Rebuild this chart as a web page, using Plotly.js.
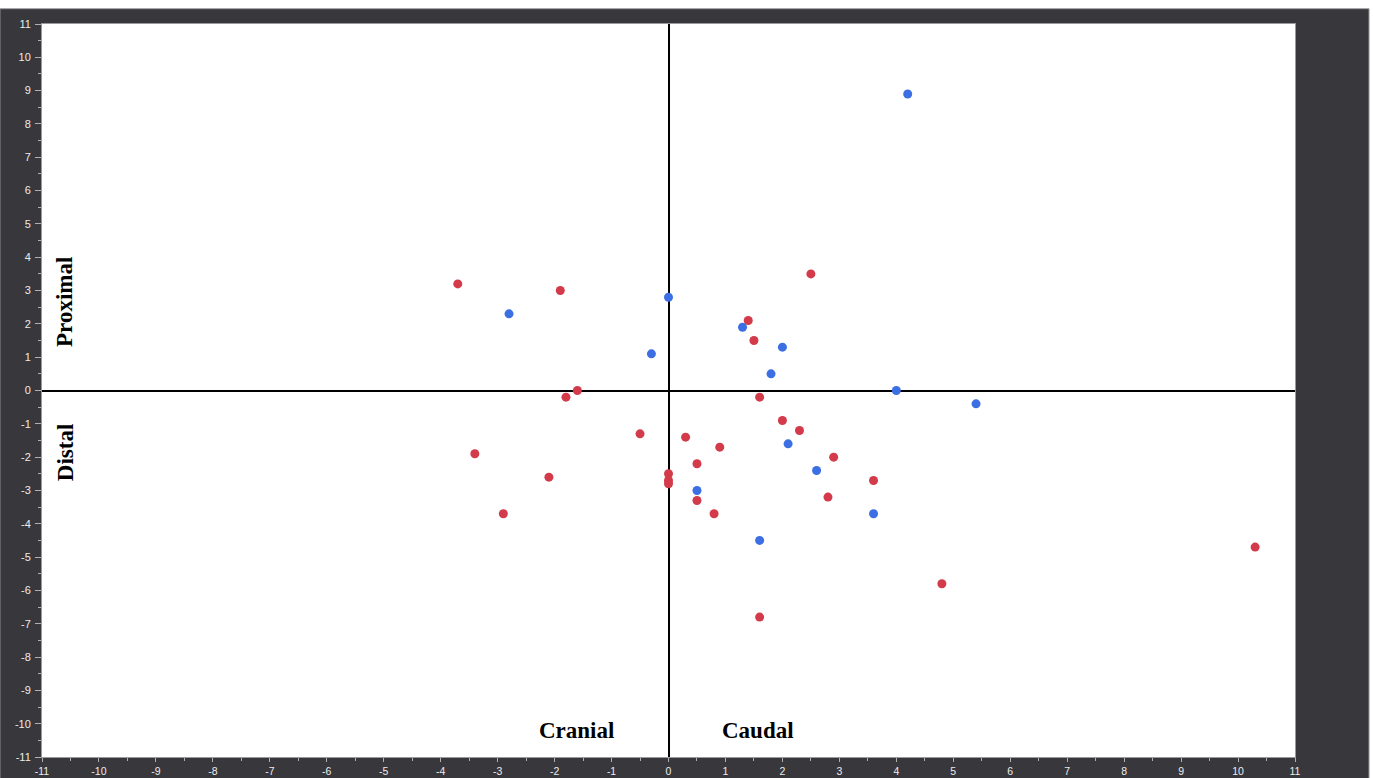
<!DOCTYPE html>
<html>
<head>
<meta charset="utf-8">
<script src="https://cdn.plot.ly/plotly-3.0.1.min.js"></script>
<style>html,body{margin:0;padding:0;background:#fff;}#chart{width:1373px;height:778px;}</style>
</head>
<body>
<div id="chart"></div>
<script>
// Blue group
const blueX = [4.2, -2.8, 0, -0.3, 1.3, 2.0, 1.8, 4.0, 5.4, 2.1, 2.6, 0.5, 3.6, 1.6];
const blueY = [8.9, 2.3, 2.8, 1.1, 1.9, 1.3, 0.5, 0.0, -0.4, -1.6, -2.4, -3.0, -3.7, -4.5];
// Red group
const redX = [-3.7, -1.9, 2.5, 1.4, 1.5, -1.6, -1.8, 1.6, 2.0, 2.3, -0.5, 0.3, 0.9, 2.9, -3.4, 0.5, 0, 0, 0, -2.1, 3.6, 2.8, 0.5, 0.8, -2.9, 4.8, 1.6, 10.3];
const redY = [3.2, 3.0, 3.5, 2.1, 1.5, 0.0, -0.2, -0.2, -0.9, -1.2, -1.3, -1.4, -1.7, -2.0, -1.9, -2.2, -2.5, -2.7, -2.8, -2.6, -2.7, -3.2, -3.3, -3.7, -3.7, -5.8, -6.8, -4.7];
const tickVals = [-11,-10,-9,-8,-7,-6,-5,-4,-3,-2,-1,0,1,2,3,4,5,6,7,8,9,10,11];
const tickText = tickVals.map(String);

const traces = [
  {x: blueX, y: blueY, type: 'scatter', mode: 'markers', name: 'Blue',
   marker: {color: '#3b6fe3', size: 9}},
  {x: redX, y: redY, type: 'scatter', mode: 'markers', name: 'Red',
   marker: {color: '#d33a4a', size: 9}}
];

const axisCommon = {
  range: [-11, 11], autorange: false,
  tickvals: tickVals, ticktext: tickText,
  ticks: 'outside', ticklen: 6, tickwidth: 1, tickcolor: '#b0b0b0',
  minor: {ticks: 'outside', ticklen: 3, tickcolor: '#b0b0b0', dtick: 0.5, tick0: 0, showgrid: false},
  showgrid: false,
  zeroline: true, zerolinecolor: '#000', zerolinewidth: 2,
  showline: true, mirror: true, linecolor: '#9a9a9a', linewidth: 1,
  tickfont: {family: 'Liberation Sans, Arial, sans-serif', size: 11, color: '#ececec'},
  fixedrange: true
};

const labelFont = {family: 'Liberation Serif, Times New Roman, serif', size: 23, color: '#000'};

const layout = {
  width: 1373, height: 778,
  margin: {l: 42, r: 78, t: 24, b: 21, pad: 0},
  paper_bgcolor: '#ffffff',
  plot_bgcolor: 'rgba(0,0,0,0)',
  showlegend: false,
  xaxis: Object.assign({}, axisCommon, {ticklen: 4, ticklabelstandoff: 0,
    tickfont: {family: 'Liberation Sans, Arial, sans-serif', size: 10.5, color: '#ececec'}}),
  yaxis: Object.assign({}, axisCommon, {ticklabelstandoff: 2}),
  shapes: [
    {type: 'rect', xref: 'paper', yref: 'paper', layer: 'below',
     x0: -0.0336, x1: 1.0591, y0: -0.06, y1: 1.0209,
     fillcolor: '#38373c', line: {width: 1, color: '#a0a0a0'}},
    {type: 'rect', xref: 'paper', yref: 'paper', layer: 'below',
     x0: 0, x1: 1, y0: 0, y1: 1,
     fillcolor: '#ffffff', line: {width: 0}}
  ],
  annotations: [
    {text: '<b>Proximal</b>', xref: 'paper', yref: 'y', x: 0.0184, y: 2.66, textangle: -90,
     showarrow: false, font: labelFont, xanchor: 'center', yanchor: 'middle'},
    {text: '<b>Distal</b>', xref: 'paper', yref: 'y', x: 0.0184, y: -1.85, textangle: -90,
     showarrow: false, font: labelFont, xanchor: 'center', yanchor: 'middle'},
    {text: '<b>Cranial</b>', xref: 'x', yref: 'y', x: -1.62, y: -10.2,
     showarrow: false, font: labelFont, xanchor: 'center', yanchor: 'middle'},
    {text: '<b>Caudal</b>', xref: 'x', yref: 'y', x: 1.57, y: -10.2,
     showarrow: false, font: labelFont, xanchor: 'center', yanchor: 'middle'}
  ]
};

Plotly.newPlot('chart', traces, layout, {displayModeBar: false, staticPlot: true});
</script>
</body>
</html>
